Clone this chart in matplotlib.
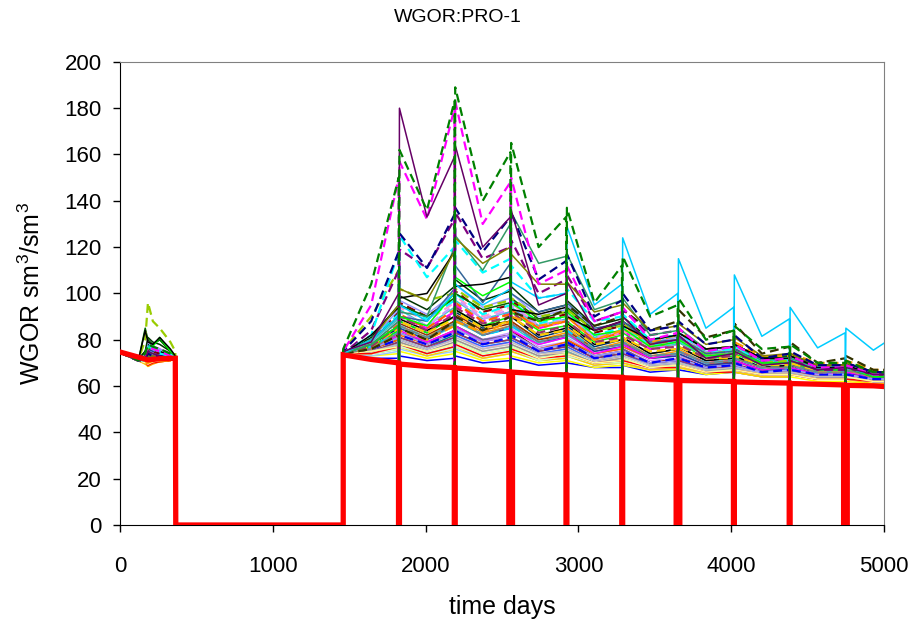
import matplotlib
matplotlib.use("Agg")
import matplotlib.pyplot as plt

plt.rcParams['font.family'] = ['Liberation Sans', 'DejaVu Sans']
plt.rcParams['mathtext.fontset'] = 'custom'
plt.rcParams['mathtext.rm'] = 'Liberation Sans'
plt.rcParams['mathtext.it'] = 'Liberation Sans'

# time grid (days)
early_days = [0, 120, 165, 183, 215, 260, 330, 362]
start_day = 1461
mid_day = 1644
shut_days = [1826, 2191, 2557, 2922, 3287, 3652, 4018, 4383, 4748]
trough_days = [2009, 2374, 2740, 3105, 3470, 3835, 4201, 4566, 4931]
end_day = 5000
# value the simulated curves touch at each shut-in
shut_base = [70.5, 68.5, 66.5, 65.5, 64.5, 63.5, 63, 62, 61.5]

# history (thick red)
red_early = [74.7, 72.5, 71.6, 71.3, 71.5, 71.8, 72, 72]
# start, mid, then (before shut, after shut, trough) x 9, end
red_late = [73.5, 71.5, 70, 69.5, 68.5, 68, 67.8, 67, 66.2, 66, 65.3, 64.8, 64.6,
            64.2, 63.8, 63.6, 63.1, 62.6, 62.4, 62.2, 62, 61.8, 61.5, 61.3, 61.1,
            60.8, 60.5, 60.3, 60.1, 59.8]
red_gap = [3, 3, 12, 3, 3, 12, 3, 3, 12]

# simulated runs: early values, then start, mid, (pre, peak, trough) x 9, end
sim_colors = [
    '#0000FF', '#FFFF00', '#00FFFF', '#FF99CC', '#800000', '#008080', '#99CCFF',
    '#FFCC99', '#CC99FF', '#FF9900', '#3366FF', '#33CCCC', '#FFCC00', '#FF6600',
    '#666699', '#969696', '#003366', '#993300', '#993366', '#333399', '#CCFFCC',
    '#00FF00', '#FF00FF', '#C0C0C0', '#000000', '#FF0000', '#9999FF', '#FFFF99',
    '#0000FF', '#FF00FF', '#00CCFF',
    '#FF99CC', '#800000', '#33CCCC', '#FF6600', '#9999FF', '#FFCC00', '#003300',
    '#CC99FF', '#808080', '#00FFFF', '#993366',
    # prominent runs
    '#006600', '#99CC00', '#336699', '#00FF00', '#FF9900', '#333300', '#800080',
    '#00FFFF', '#339966', '#000000', '#808000', '#00CCFF', '#000080', '#FF00FF',
    '#660066', '#008000',
]
sim_dashed = [
    False, False, False, False, False, False, False, False, False, False, False,
    False, False, False, False, False, False, False, False, False, False, False,
    False, False, False, False, False, False, True, True, True,
    True, True, False, True, False, True, False, True, False, True, True,
    False, True, False, False, True, True, True, True, False, False, False,
    False, True, True, False, True,
]
sim_early = [
    [74.5, 71, 70, 69, 70.5, 71, 71.5, 72],
    [74.5, 71, 69.5, 68.5, 70, 70.5, 71, 72],
    [74.5, 71.5, 72, 74, 73, 72, 72, 72],
    [74.5, 71, 71, 72, 72, 71.5, 71.5, 72],
    [74.5, 71.5, 72, 73, 72.5, 72, 72, 72],
    [74.5, 71.5, 73, 76, 75, 74, 73, 72.5],
    [74.5, 71, 70, 69.5, 70.5, 71, 71.5, 72],
    [74.5, 71, 70.5, 70, 71, 71.5, 71.5, 72],
    [74.5, 71.5, 72.5, 74, 73, 72.5, 72, 72],
    [74.5, 71, 70, 68.5, 69.5, 70.5, 71, 72],
    [74.5, 71, 71, 71.5, 71.5, 71.5, 71.5, 72],
    [74.5, 71.5, 73, 77, 76, 75, 73, 72.5],
    [74.5, 71, 69.5, 69, 70, 70.5, 71, 72],
    [74.5, 71, 70.5, 70, 71, 71, 71.5, 72],
    [74.5, 71.5, 72, 73, 72.5, 72, 72, 72],
    [74.5, 71, 71, 71, 71.5, 71.5, 71.5, 72],
    [74.5, 71.5, 73, 75, 74, 73.5, 72.5, 72],
    [74.5, 71.5, 72.5, 73.5, 73, 72.5, 72, 72],
    [74.5, 71, 71.5, 72, 72, 72, 72, 72],
    [74.5, 71.5, 73.5, 76, 75, 74, 73, 72.5],
    [74.5, 71, 70.5, 70, 71, 71, 71.5, 72],
    [74.5, 71.5, 74, 77, 78, 80, 75, 73],
    [74.5, 71.5, 74, 80, 77, 76, 74, 73],
    [74.5, 71, 71, 71.5, 71.5, 71.5, 72, 72],
    [74.5, 71.5, 75, 78, 76, 75, 73, 72.5],
    [74.5, 71, 70, 69, 70, 70.5, 71, 72],
    [74.5, 71.5, 72, 73, 72.5, 72, 72, 72],
    [74.5, 71, 70, 69.5, 70.5, 71, 71.5, 72],
    [74.5, 71, 71, 72, 72, 71.5, 71.5, 72],
    [74.5, 71.5, 74, 78, 77, 76, 74, 73],
    [74.5, 71.5, 73, 75, 74, 73, 72.5, 72],
    [74.5, 71, 72, 74, 73, 72.5, 72, 72],
    [74.5, 71.5, 73, 76, 75, 74, 73, 72.5],
    [74.5, 71, 72.5, 75, 74, 73, 72.5, 72],
    [74.5, 71, 71, 72, 72, 72, 72, 72],
    [74.5, 71.5, 74, 79, 77, 76, 74, 73],
    [74.5, 71, 70.5, 70.5, 71, 71, 71.5, 72],
    [74.5, 71.5, 75, 81, 79, 78, 75, 73],
    [74.5, 71, 72.5, 74, 73.5, 73, 72.5, 72],
    [74.5, 71, 71.5, 72, 72, 72, 72, 72],
    [74.5, 71.5, 73.5, 77, 76, 75, 73.5, 72.5],
    [74.5, 71, 72, 73, 73, 72.5, 72, 72],
    # prominent runs
    [74.5, 71, 85, 80, 78, 80, 75, 73],
    [74.5, 71, 80, 96, 88, 85, 79, 75],
    [74.5, 71, 72, 73, 73, 72, 72, 72],
    [74.5, 71, 73, 76, 77, 81, 75, 73],
    [74.5, 71, 70, 70, 71, 71, 71, 72],
    [74.5, 71, 71, 72, 72, 72, 72, 72],
    [74.5, 71, 72, 75, 74, 73, 72, 72],
    [74.5, 71, 73, 78, 76, 74, 73, 72],
    [74.5, 71, 72, 74, 74, 73, 72, 72],
    [74.5, 71, 84, 79, 78, 81, 76, 73],
    [74.5, 71, 72, 73, 73, 72, 72, 72],
    [74.5, 71, 71, 72, 72, 72, 71.5, 72],
    [74.5, 71, 72, 74, 73, 73, 72, 72],
    [74.5, 71, 73, 77, 76, 75, 73, 72],
    [74.5, 71, 72, 75, 74, 73, 72, 72],
    [74.5, 71, 74, 78, 77, 76, 74, 73],
]
sim_late = [
    [74, 72, 72, 73, 71, 72, 73, 70, 71, 72, 69, 70, 70, 68, 68, 69, 66, 67, 67, 65, 66, 66, 64, 64, 65, 63, 63, 63, 62, 62],
    [74, 73, 74, 75, 72, 74, 75, 71, 72, 73, 70, 71, 71, 68, 69, 69, 67, 67, 68, 65, 66, 66, 64, 64, 64, 62, 62, 62, 61, 61],
    [74, 74, 76, 78, 74, 77, 79, 74, 76, 77, 72, 74, 75, 70, 71, 72, 68, 69, 70, 67, 67, 68, 65, 66, 66, 64, 64, 65, 63, 63],
    [74, 75, 78, 80, 76, 80, 82, 76, 79, 80, 74, 76, 77, 71, 73, 74, 69, 70, 71, 67, 68, 69, 66, 66, 67, 64, 64, 65, 63, 63],
    [74, 76, 80, 83, 78, 84, 86, 80, 82, 84, 76, 78, 80, 73, 75, 76, 70, 72, 73, 68, 69, 70, 66, 67, 67, 65, 65, 65, 63, 63],
    [74, 75, 79, 81, 77, 82, 83, 78, 80, 81, 75, 77, 78, 72, 74, 75, 70, 71, 72, 68, 68, 69, 66, 66, 67, 64, 64, 65, 63, 63],
    [74, 73, 75, 76, 73, 75, 76, 72, 74, 75, 71, 72, 73, 69, 70, 70, 67, 68, 68, 66, 66, 67, 65, 65, 65, 63, 63, 64, 62, 62],
    [74, 74, 77, 79, 75, 78, 80, 75, 77, 78, 73, 75, 76, 71, 72, 73, 69, 69, 70, 67, 67, 68, 65, 65, 66, 64, 64, 64, 62, 62],
    [74, 76, 81, 84, 79, 84, 86, 80, 83, 85, 77, 79, 81, 74, 76, 77, 71, 72, 73, 69, 69, 70, 67, 67, 68, 65, 65, 66, 64, 64],
    [74, 77, 83, 86, 81, 88, 90, 83, 86, 88, 80, 83, 85, 76, 79, 80, 73, 75, 76, 70, 71, 72, 68, 68, 69, 66, 66, 67, 64, 64],
    [74, 75, 78, 80, 76, 81, 82, 77, 79, 80, 74, 76, 77, 71, 73, 74, 69, 70, 71, 67, 68, 68, 66, 66, 66, 64, 64, 64, 62, 62],
    [74, 77, 82, 85, 80, 86, 88, 82, 85, 86, 78, 81, 82, 75, 77, 78, 72, 73, 74, 69, 70, 71, 67, 67, 68, 65, 65, 66, 64, 64],
    [74, 74, 76, 77, 73, 76, 77, 72, 74, 75, 71, 72, 73, 69, 70, 70, 67, 68, 68, 66, 66, 66, 64, 64, 65, 63, 63, 63, 61, 61],
    [74, 76, 80, 82, 78, 83, 85, 79, 82, 83, 76, 79, 80, 74, 76, 77, 72, 74, 75, 70, 71, 72, 68, 69, 70, 66, 67, 68, 65, 66],
    [74, 76, 81, 83, 79, 84, 86, 80, 82, 83, 76, 78, 79, 73, 75, 76, 70, 71, 72, 68, 69, 69, 66, 67, 67, 65, 65, 65, 63, 63],
    [74, 75, 77, 79, 75, 79, 80, 75, 77, 78, 73, 74, 75, 70, 72, 72, 68, 69, 70, 67, 67, 67, 65, 65, 66, 64, 64, 64, 62, 62],
    [74, 78, 85, 88, 83, 90, 92, 85, 88, 90, 81, 84, 86, 77, 80, 81, 74, 76, 77, 71, 72, 73, 68, 69, 69, 66, 66, 67, 64, 64],
    [74, 77, 84, 87, 82, 88, 91, 84, 87, 88, 80, 82, 84, 76, 78, 79, 72, 74, 75, 70, 70, 71, 67, 68, 68, 65, 66, 66, 64, 64],
    [74, 75, 79, 81, 77, 81, 83, 78, 80, 81, 75, 77, 78, 72, 74, 74, 70, 71, 71, 68, 68, 69, 66, 66, 67, 64, 64, 65, 63, 63],
    [74, 76, 82, 85, 80, 87, 89, 82, 85, 87, 79, 81, 83, 75, 77, 78, 72, 73, 74, 69, 70, 71, 67, 67, 68, 65, 65, 66, 63, 63],
    [74, 74, 76, 77, 74, 76, 77, 73, 75, 76, 71, 73, 73, 70, 70, 71, 68, 68, 69, 66, 66, 67, 65, 65, 65, 63, 63, 63, 62, 62],
    [74, 77, 84, 88, 83, 90, 93, 86, 90, 92, 84, 86, 88, 79, 82, 83, 76, 78, 79, 72, 73, 74, 69, 70, 70, 67, 67, 67, 65, 65],
    [74, 76, 82, 84, 79, 84, 86, 79, 82, 84, 78, 81, 83, 74, 77, 78, 72, 74, 75, 70, 71, 71, 67, 68, 68, 65, 66, 66, 64, 64],
    [74, 75, 78, 80, 76, 80, 81, 76, 78, 79, 74, 75, 76, 71, 73, 73, 69, 70, 70, 67, 68, 68, 66, 66, 66, 64, 64, 65, 63, 63],
    [74, 78, 86, 89, 84, 90, 93, 86, 88, 90, 82, 85, 87, 78, 80, 81, 74, 76, 77, 71, 72, 73, 68, 69, 69, 66, 66, 67, 64, 64],
    [74, 74, 77, 78, 74, 77, 78, 73, 75, 76, 72, 73, 74, 70, 71, 71, 68, 68, 69, 66, 66, 67, 65, 65, 65, 63, 63, 63, 62, 62],
    [74, 76, 81, 83, 78, 83, 85, 79, 82, 83, 76, 78, 79, 73, 75, 75, 70, 71, 72, 68, 69, 69, 66, 67, 67, 65, 65, 65, 63, 63],
    [74, 75, 77, 78, 75, 78, 79, 74, 76, 77, 72, 74, 74, 70, 71, 72, 68, 69, 69, 66, 67, 67, 65, 65, 65, 63, 63, 64, 62, 62],
    [74, 76, 80, 82, 78, 83, 84, 78, 81, 82, 75, 78, 79, 72, 74, 75, 70, 72, 72, 68, 69, 70, 66, 67, 67, 65, 65, 65, 63, 63],
    [74, 78, 86, 90, 85, 92, 95, 88, 92, 94, 85, 88, 90, 80, 83, 84, 76, 78, 79, 73, 74, 75, 70, 71, 71, 68, 68, 68, 65, 65],
    [74, 77, 83, 86, 81, 87, 89, 82, 85, 86, 79, 82, 84, 76, 78, 79, 73, 74, 75, 70, 71, 72, 68, 68, 69, 66, 66, 67, 64, 64],
    [74, 79, 90, 94, 88, 96, 99, 90, 94, 96, 86, 88, 90, 81, 83, 84, 77, 78, 79, 73, 74, 75, 70, 70, 71, 67, 67, 68, 65, 65],
    [74, 80, 92, 96, 90, 98, 101, 92, 95, 97, 88, 91, 93, 83, 86, 87, 78, 80, 81, 74, 75, 76, 71, 71, 72, 68, 68, 69, 65, 65],
    [74, 79, 89, 93, 86, 94, 97, 89, 92, 94, 86, 89, 91, 81, 84, 85, 77, 78, 79, 73, 74, 75, 70, 71, 71, 67, 67, 68, 65, 65],
    [74, 78, 87, 91, 85, 93, 96, 88, 91, 93, 85, 88, 90, 80, 83, 85, 77, 79, 81, 74, 75, 77, 71, 72, 73, 68, 69, 70, 66, 66],
    [74, 80, 93, 97, 91, 100, 104, 94, 98, 100, 90, 93, 95, 84, 87, 88, 79, 81, 82, 75, 76, 77, 71, 72, 72, 68, 68, 69, 65, 65],
    [74, 77, 85, 88, 83, 89, 92, 85, 88, 90, 82, 84, 86, 78, 80, 81, 75, 76, 77, 72, 72, 73, 69, 69, 70, 66, 66, 67, 64, 64],
    [74, 81, 95, 99, 93, 103, 106, 97, 101, 103, 92, 95, 97, 86, 89, 90, 80, 82, 83, 76, 77, 78, 72, 73, 73, 69, 69, 70, 66, 66],
    [74, 78, 88, 92, 86, 95, 98, 89, 93, 95, 86, 89, 91, 81, 84, 85, 77, 79, 80, 74, 75, 75, 71, 71, 72, 68, 68, 68, 65, 65],
    [74, 76, 83, 86, 81, 87, 89, 82, 86, 87, 79, 82, 83, 76, 78, 79, 73, 74, 75, 70, 71, 72, 68, 68, 69, 66, 66, 67, 64, 64],
    [74, 80, 91, 95, 89, 97, 100, 91, 95, 97, 87, 90, 92, 82, 85, 86, 78, 79, 80, 74, 75, 76, 71, 71, 72, 68, 68, 68, 65, 65],
    [74, 77, 86, 90, 84, 91, 94, 87, 90, 92, 83, 86, 88, 79, 81, 82, 76, 77, 78, 72, 73, 74, 70, 70, 71, 67, 67, 68, 64, 64],
    # prominent runs
    [74, 80, 90, 95, 90, 98, 100, 93, 96, 98, 89, 92, 94, 84, 87, 88, 80, 82, 83, 76, 77, 78, 72, 73, 73, 69, 69, 70, 66, 66],
    [75.6, 90, 110, 102, 97, 100, 102, 94, 97, 98, 90, 92, 93, 84, 86, 87, 78, 80, 81, 74, 75, 76, 70, 71, 71, 68, 68, 68, 65, 65],
    [74, 78, 86, 90, 88, 102, 112, 96, 113, 100, 92, 95, 96, 85, 87, 88, 79, 80, 81, 74, 75, 76, 70, 70, 71, 67, 67, 68, 64, 64],
    [74, 78, 86, 90, 86, 100, 107, 99, 105, 96, 88, 90, 92, 82, 84, 85, 77, 79, 80, 73, 74, 75, 70, 70, 71, 67, 67, 68, 64, 64],
    [74, 76, 82, 84, 80, 86, 88, 83, 88, 90, 86, 88, 90, 80, 84, 86, 79, 82, 84, 76, 77, 79, 73, 73, 74, 70, 70, 71, 67, 67],
    [74, 76, 82, 85, 80, 88, 90, 84, 90, 92, 88, 93, 95, 86, 90, 93, 84, 88, 93, 81, 84, 87, 74, 77, 79, 70, 72, 73, 67, 67],
    [74, 84, 110, 119, 111, 132, 135, 115, 120, 123, 100, 106, 108, 88, 92, 93, 82, 84, 85, 75, 77, 78, 71, 72, 72, 67, 67, 68, 65, 65],
    [74, 82, 118, 125, 107, 120, 123, 109, 115, 112, 98, 100, 102, 88, 90, 91, 80, 82, 83, 75, 76, 77, 71, 72, 72, 68, 68, 68, 65, 65],
    [74, 78, 88, 92, 90, 120, 125, 110, 130, 135, 113, 116, 117, 93, 97, 98, 82, 84, 85, 76, 77, 78, 71, 72, 72, 68, 68, 69, 65, 65],
    [74, 82, 94, 98, 100, 118, 103, 104, 107, 93, 91, 94, 90, 84, 88, 86, 80, 82, 83, 76, 77, 78, 72, 72, 73, 68, 68, 69, 65, 65],
    [74, 80, 95, 102, 97, 118, 124, 113, 120, 117, 104, 104, 105, 92, 95, 96, 84, 86, 87, 78, 80, 81, 73, 74, 74, 69, 69, 70, 66, 66],
    [74, 80, 90, 95, 88, 100, 104, 95, 102, 105, 98, 100, 129, 95, 104, 124, 91, 100, 115, 85, 94, 108, 81.5, 89, 94, 76.5, 83, 85, 75.5, 78.5],
    [75, 88, 118, 126, 111, 134, 137, 118, 133, 135, 106, 114, 117, 90, 97, 100, 84, 86, 88, 78, 80, 82, 72, 74, 75, 69, 69, 70, 66, 66],
    [75, 95, 150, 157, 132, 180, 183, 130, 148, 150, 104, 110, 112, 88, 92, 94, 80, 83, 85, 75, 77, 78, 71, 72, 73, 68, 68, 69, 65, 65],
    [75, 79, 100, 180, 133, 159, 164, 120, 133, 136, 95, 100, 105, 84, 88, 90, 78, 80, 82, 72, 74, 75, 69, 70, 71, 67, 68, 68, 65, 65],
    [76, 104, 150, 162, 136, 183, 189, 140, 161, 165, 120, 133, 137, 96, 112, 116, 90, 95, 98, 80, 84, 86, 76, 77, 78, 70, 70, 71, 66, 66],
]
n_prominent = 16


def trace(early, late, base):
    xs = list(early_days) + [365, 1461]
    ys = list(early) + [0, 0]
    xs += [start_day, mid_day]
    ys += late[:2]
    for k, t in enumerate(shut_days):
        pre, peak, low = late[2 + 3 * k:5 + 3 * k]
        xs += [t - 2, t, t + 3, trough_days[k]]
        ys += [pre, base[k], peak, low]
    xs.append(end_day)
    ys.append(late[-1])
    return xs, ys


fig = plt.figure(figsize=(9.16, 6.25), dpi=100)
ax = fig.add_axes([0.131, 0.16, 0.834, 0.741])

n_mass = len(sim_colors) - n_prominent
for i, (c, d) in enumerate(zip(sim_colors, sim_dashed)):
    xs, ys = trace(sim_early[i], sim_late[i], shut_base)
    z = 3 if i >= n_mass else 2
    if d:
        ax.plot(xs, ys, color=c, lw=1.6, dashes=(4, 2.2), zorder=z)
    else:
        ax.plot(xs, ys, color=c, lw=1.1, zorder=z)

# history curve with shut-in drops to zero
rx = list(early_days) + [365, 1461]
ry = list(red_early) + [0, 0]
rx += [start_day, mid_day]
ry += red_late[:2]
for k, t in enumerate(shut_days):
    pre, post, low = red_late[2 + 3 * k:5 + 3 * k]
    g = red_gap[k]
    rx += [t - g, t - g, t + g, t + g, trough_days[k]]
    ry += [pre, 0, 0, post, low]
rx.append(end_day)
ry.append(red_late[-1])
ax.plot(rx, ry, color='#FF0000', lw=3.8, zorder=5, solid_joinstyle='miter')

ax.set_xlim(0, 5000)
ax.set_ylim(0, 200)
ax.set_xticks(range(0, 5001, 1000))
ax.set_yticks(range(0, 201, 20))
ax.tick_params(axis='both', direction='out', length=5, width=1, labelsize=16)
ax.tick_params(axis='x', pad=17)
ax.tick_params(axis='y', pad=8)
for s in ['top', 'right']:
    ax.spines[s].set_color('#808080')
for s in ['left', 'bottom']:
    ax.spines[s].set_color('#000000')
# title sits centred on the whole figure
fig.text(0.5, 1 - 18 / 625, 'WGOR:PRO-1', fontsize=14, ha='center', va='center')
ax.set_xlabel('time days', fontsize=18, labelpad=13)
ax.set_ylabel(r'WGOR sm$^3$/sm$^3$', fontsize=18, labelpad=14)

fig.savefig('out.png', dpi=100)
